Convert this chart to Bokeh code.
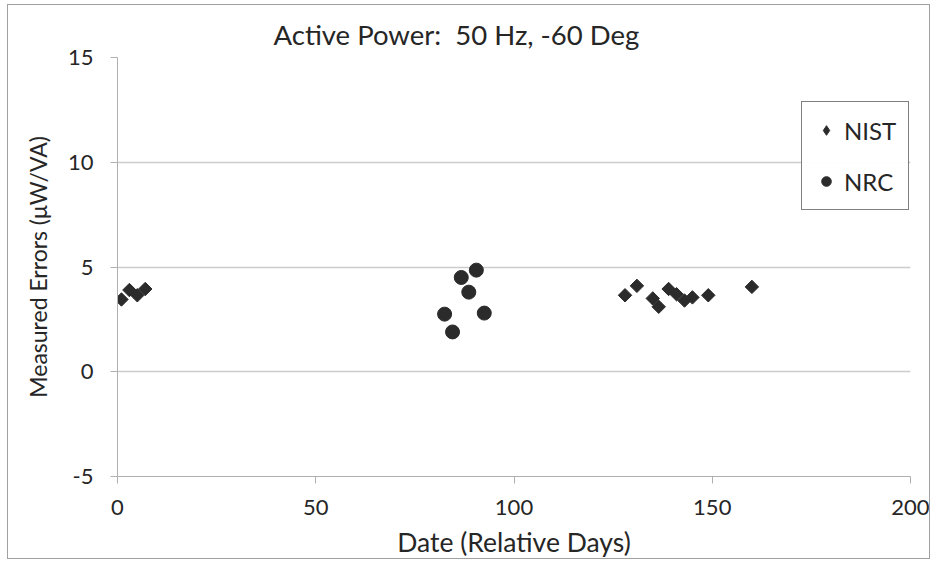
import math
from bokeh.plotting import figure
from bokeh.models import Legend, LegendItem, FixedTicker, PrintfTickFormatter
from bokeh.embed import file_html
from bokeh.resources import INLINE

title_text = "Active Power:\u00a0 50 Hz, -60 Deg"
x_label = "Date (Relative Days)"
y_label = "Measured Errors (\u03bcW/VA)"

nist_day = [1, 3, 5, 7, 128, 131, 135, 136.5, 139, 141, 143, 145, 149, 160]
nist_err = [3.45, 3.9, 3.65, 3.95, 3.65, 4.1, 3.5, 3.1, 3.95, 3.7, 3.4, 3.55, 3.65, 4.05]

nrc_day = [82.5, 84.5, 86.7, 88.6, 90.5, 92.5]
nrc_err = [2.75, 1.9, 4.5, 3.8, 4.85, 2.8]

x_ticks = [0, 50, 100, 150, 200]
y_ticks = [-5, 0, 5, 10, 15]

FONT = "Lato"
TXT = "#262626"
MARK = "#2b2b2b"

p = figure(width=923, height=555, output_backend="svg", toolbar_location=None,
           x_range=(0, 200), y_range=(-5, 15),
           min_border_left=109, min_border_right=21, min_border_top=52, min_border_bottom=83)
p.styles = {"border": "1px solid #a0a0a0", "margin-left": "7px", "margin-top": "4px"}
p.outline_line_color = None

p.title.text = title_text
p.title.align = "left"
p.title.offset = 156
p.title.text_font = FONT
p.title.text_font_size = "27.5px"
p.title.text_font_style = "normal"
p.title.text_color = TXT
p.title.standoff = 13

p.xaxis.ticker = FixedTicker(ticks=x_ticks)
p.yaxis.ticker = FixedTicker(ticks=y_ticks)
p.xaxis.formatter = PrintfTickFormatter(format="%d")
p.yaxis.formatter = PrintfTickFormatter(format="%d")
for ax in (p.xaxis[0], p.yaxis[0]):
    ax.axis_line_color = "#b0b0b0"
    ax.major_tick_line_color = "#b0b0b0"
    ax.major_tick_out = 7
    ax.major_tick_in = 0
    ax.minor_tick_line_color = None
    ax.major_label_text_font = FONT
    ax.major_label_text_font_size = "22px"
    ax.major_label_text_color = TXT
    ax.axis_label_text_font = FONT
    ax.axis_label_text_font_style = "normal"
    ax.axis_label_text_color = TXT
p.xaxis.axis_label = x_label
p.yaxis.axis_label = y_label
p.xaxis.axis_label_text_font_size = "26.5px"
p.yaxis.axis_label_text_font_size = "23px"
p.xaxis.major_label_standoff = 16
p.yaxis.major_label_standoff = 17
p.xaxis.axis_label_standoff = 8
p.yaxis.axis_label_standoff = 13

p.xgrid.grid_line_color = None
p.ygrid.grid_line_color = "#cccccc"
p.ygrid.grid_line_width = 1.5

r_nist = p.scatter(nist_day, nist_err, marker="square", size=9.5, angle=math.pi / 4,
                   color=MARK)
r_nrc = p.scatter(nrc_day, nrc_err, marker="circle", size=14, color=MARK)
# legend swatch for NIST (legend glyphs ignore marker angle)
r_nist_key = p.scatter([float("nan")], [float("nan")], marker="diamond", size=14, color=MARK)

legend = Legend(items=[LegendItem(label="NIST", renderers=[r_nist_key]),
                       LegendItem(label="NRC", renderers=[r_nrc])],
                location=(684, 266))
legend.border_line_color = "#000000"
legend.border_line_width = 1.5
legend.label_text_font = FONT
legend.label_text_font_size = "24px"
legend.label_text_color = TXT
legend.glyph_width = 24
legend.glyph_height = 32
legend.label_height = 32
legend.spacing = 19
legend.padding = 12
legend.margin = 0
legend.label_standoff = 6
p.add_layout(legend)

open("out.html", "w").write(file_html(p, INLINE))
